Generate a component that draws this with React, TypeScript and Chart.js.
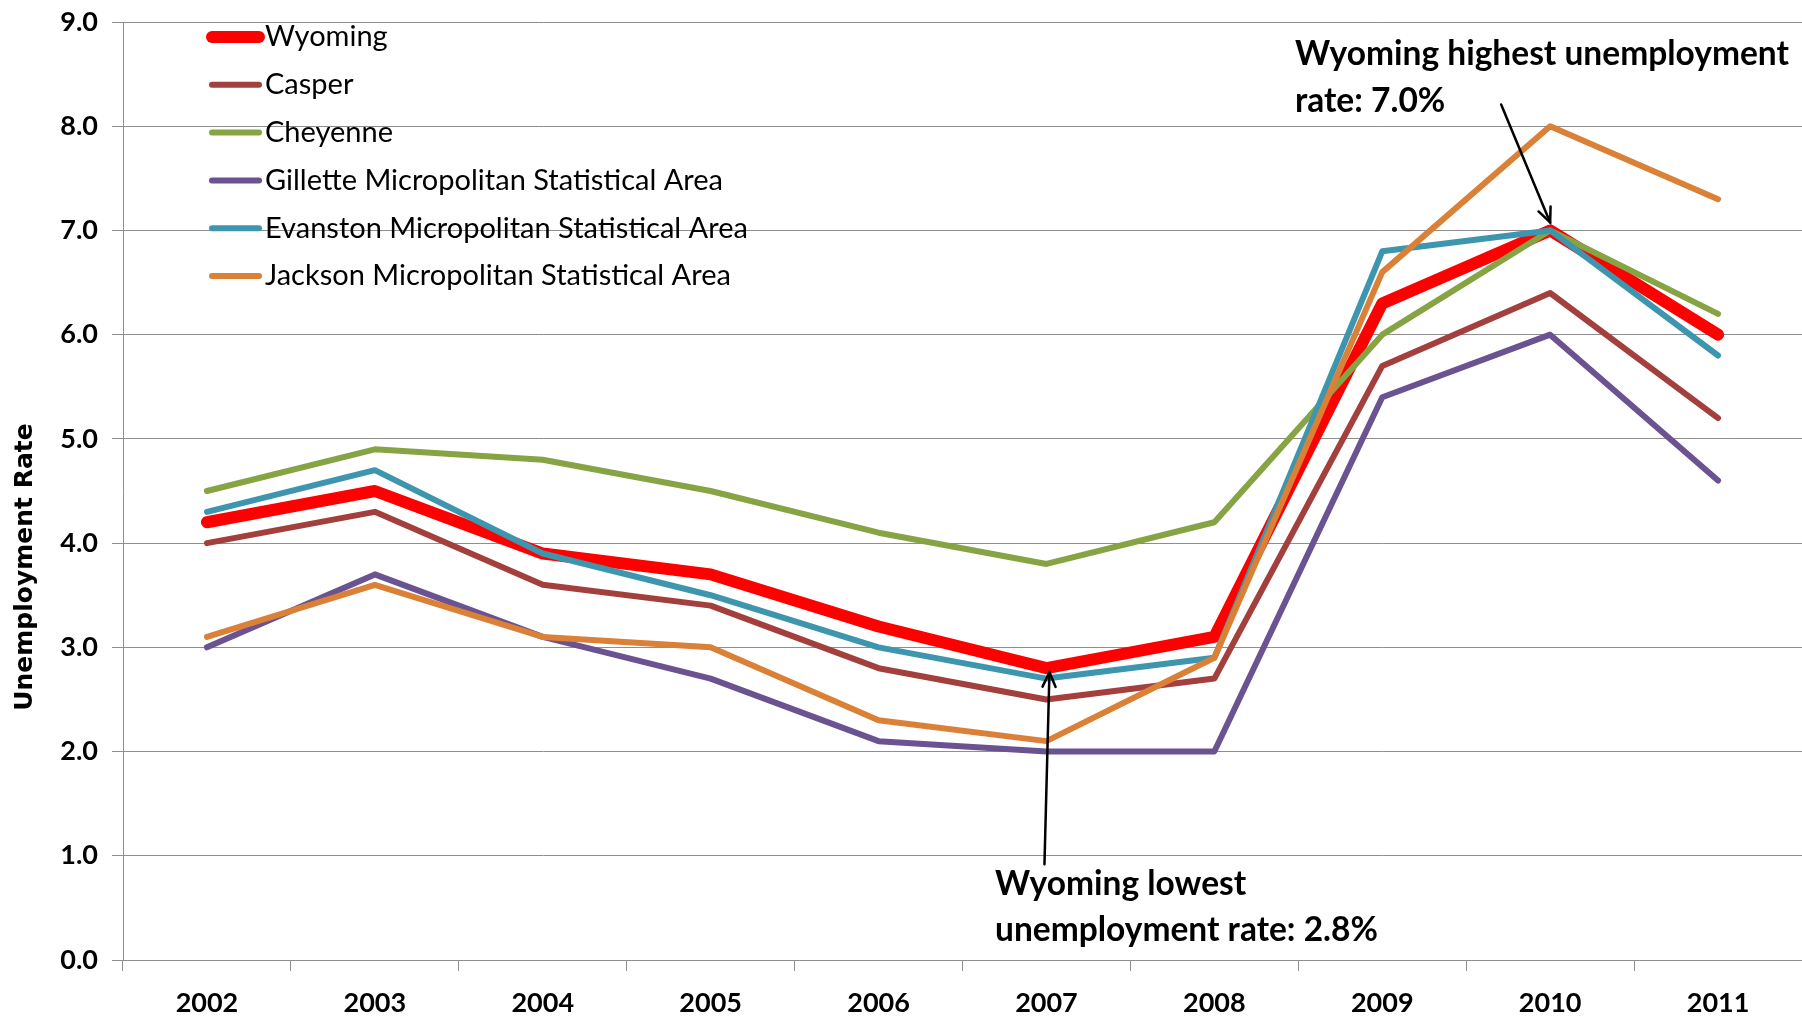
import React, { useEffect, useRef } from 'react';
import { Chart, registerables } from 'chart.js';

Chart.register(...registerables);

const years = ['2002', '2003', '2004', '2005', '2006', '2007', '2008', '2009', '2010', '2011'];
const yTickLabels = ['0.0', '1.0', '2.0', '3.0', '4.0', '5.0', '6.0', '7.0', '8.0', '9.0'];

const seriesNames = [
  'Wyoming',
  'Casper',
  'Cheyenne',
  'Gillette Micropolitan Statistical Area',
  'Evanston Micropolitan Statistical Area',
  'Jackson Micropolitan Statistical Area',
];
const wyoming = [4.2, 4.5, 3.9, 3.7, 3.2, 2.8, 3.1, 6.3, 7.0, 6.0];
const casper = [4.0, 4.3, 3.6, 3.4, 2.8, 2.5, 2.7, 5.7, 6.4, 5.2];
const cheyenne = [4.5, 4.9, 4.8, 4.5, 4.1, 3.8, 4.2, 6.0, 7.0, 6.2];
const gillette = [3.0, 3.7, 3.1, 2.7, 2.1, 2.0, 2.0, 5.4, 6.0, 4.6];
const evanston = [4.3, 4.7, 3.9, 3.5, 3.0, 2.7, 2.9, 6.8, 7.0, 5.8];
const jackson = [3.1, 3.6, 3.1, 3.0, 2.3, 2.1, 2.9, 6.6, 8.0, 7.3];

const seriesValues = [wyoming, casper, cheyenne, gillette, evanston, jackson];
const seriesColors = ['#FF0000', '#A3403D', '#86A444', '#6B5290', '#3D96AE', '#DA8137'];
const seriesWidths = [12, 6, 6, 6, 6, 6];

const yTitle = 'Unemployment Rate';
const highNote = ['Wyoming highest unemployment', 'rate: 7.0%'];
const lowNote = ['Wyoming lowest', 'unemployment rate: 2.8%'];
const highIndex = 8;
const highValue = 7.0;
const lowIndex = 5;
const lowValue = 2.8;

const GRID = '#8E8E8E';

const drawArrow = (ctx: CanvasRenderingContext2D, x1: number, y1: number, x2: number, y2: number) => {
  ctx.save();
  ctx.strokeStyle = '#000';
  ctx.lineWidth = 2.5;
  ctx.lineCap = 'round';
  ctx.beginPath();
  ctx.moveTo(x1, y1);
  ctx.lineTo(x2, y2);
  ctx.stroke();
  const ang = Math.atan2(y2 - y1, x2 - x1);
  const len = 16;
  const spread = 0.42;
  ctx.beginPath();
  ctx.moveTo(x2 - len * Math.cos(ang - spread), y2 - len * Math.sin(ang - spread));
  ctx.lineTo(x2, y2);
  ctx.lineTo(x2 - len * Math.cos(ang + spread), y2 - len * Math.sin(ang + spread));
  ctx.stroke();
  ctx.restore();
};

const overlayPlugin = {
  id: 'overlay',
  afterDraw(chart: any) {
    const ctx: CanvasRenderingContext2D = chart.ctx;
    const xs = chart.scales.x;
    const ys = chart.scales.y;
    ctx.save();
    // legend
    const rowY0 = 37;
    const rowGap = 47.8;
    seriesNames.forEach((name, i) => {
      const y = rowY0 + i * rowGap;
      ctx.strokeStyle = seriesColors[i];
      ctx.lineWidth = i === 0 ? 12 : 6;
      ctx.lineCap = 'round';
      ctx.beginPath();
      ctx.moveTo(212, y);
      ctx.lineTo(259, y);
      ctx.stroke();
      ctx.fillStyle = '#000';
      ctx.font = '29px Lato';
      ctx.textBaseline = 'middle';
      ctx.textAlign = 'left';
      ctx.fillText(name, 265, y);
    });

    // y title
    ctx.save();
    ctx.translate(25, 567);
    ctx.rotate(-Math.PI / 2);
    ctx.font = 'bold 25px "DejaVu Sans"';
    ctx.textAlign = 'center';
    ctx.textBaseline = 'middle';
    ctx.fillStyle = '#000';
    ctx.fillText(yTitle, 0, 0);
    ctx.restore();

    // annotations
    ctx.font = 'bold 33.5px Lato';
    ctx.fillStyle = '#000';
    ctx.textAlign = 'left';
    ctx.textBaseline = 'middle';
    ctx.fillText(highNote[0], 1295, 54);
    ctx.fillText(highNote[1], 1295, 101);
    ctx.fillText(lowNote[0], 995, 884);
    ctx.fillText(lowNote[1], 995, 930);

    const hx = xs.getPixelForValue(highIndex);
    const hy = ys.getPixelForValue(highValue);
    drawArrow(ctx, hx - 49, hy - 126, hx, hy - 8);
    const lx = xs.getPixelForValue(lowIndex);
    const ly = ys.getPixelForValue(lowValue);
    drawArrow(ctx, lx - 2, ly + 196, lx + 3, ly + 4);
    ctx.restore();
  },
};

export default function App() {
  const ref = useRef<HTMLCanvasElement>(null);
  useEffect(() => {
    if (!ref.current) return;
    const orders = [6, 5, 4, 3, 2, 1];
    const chart = new Chart(ref.current, {
      type: 'line',
      data: {
        labels: years,
        datasets: seriesNames.map((name, i) => ({
          label: name,
          data: seriesValues[i],
          borderColor: seriesColors[i],
          backgroundColor: seriesColors[i],
          borderWidth: seriesWidths[i],
          pointRadius: 0,
          pointHoverRadius: 0,
          tension: 0,
          borderJoinStyle: 'round' as const,
          borderCapStyle: 'round' as const,
          order: orders[i],
        })),
      },
      options: {
        animation: false,
        responsive: false,
        maintainAspectRatio: false,
        layout: { padding: { top: 22, right: 0, left: 0, bottom: 0 } },
        plugins: {
          legend: { display: false },
          tooltip: { enabled: false },
        },
        scales: {
          x: {
            type: 'category',
            offset: true,
            grid: {
              display: true,
              drawOnChartArea: false,
              drawTicks: true,
              tickLength: 11,
              color: GRID,
              offset: true,
            },
            border: { display: true, color: GRID, width: 1 },
            ticks: {
              color: '#000',
              font: { family: 'Lato', size: 27, weight: 'bold' },
              padding: 16,
              maxRotation: 0,
            },
            afterFit: (s: any) => {
              s.height = 58;
            },
          },
          y: {
            min: 0,
            max: 9,
            ticks: {
              stepSize: 1,
              color: '#000',
              font: { family: 'Lato', size: 27, weight: 'bold' },
              padding: 14,
              callback: (_v: any, idx: number) => yTickLabels[idx],
            },
            grid: {
              color: GRID,
              tickLength: 11,
              lineWidth: 1,
            },
            border: { display: true, color: GRID, width: 1 },
            afterFit: (s: any) => {
              s.width = 123;
              s.paddingTop = 0;
              s.paddingBottom = 0;
            },
          },
        },
      },
      plugins: [overlayPlugin],
    } as any);
    return () => chart.destroy();
  }, []);
  return (
    <div style={{ position: 'absolute', left: 0, top: 0, width: 1802, height: 1018, background: '#fff' }}>
      <canvas ref={ref} width={1802} height={1018} style={{ width: 1802, height: 1018, display: 'block' }} />
    </div>
  );
}
